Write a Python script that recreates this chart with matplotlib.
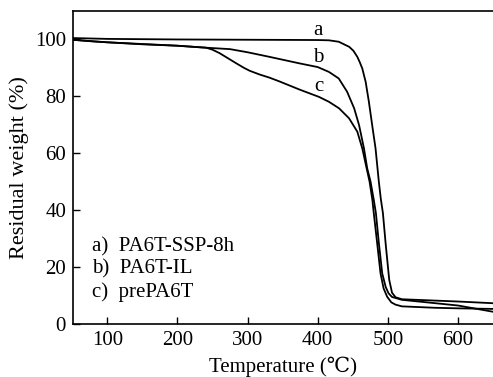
import matplotlib
matplotlib.use('Agg')
import matplotlib.pyplot as plt

# TGA curves
temp_a = [50, 100, 200, 300, 400, 416, 430, 445, 451, 456.5, 460, 463.6, 468.4, 473, 477.7,
          482.5, 487.2, 490, 493, 497, 502, 506, 511, 520, 560, 600, 650]
wt_a = [100.5, 100.2, 100.0, 99.9, 99.8, 99.7, 99.2, 97.4, 96.0, 93.9, 92.0, 89.8, 85.1, 78.1, 69.9,
        61.7, 50.0, 44.0, 39.0, 28.0, 15.5, 11.0, 9.4, 8.7, 8.3, 7.9, 7.3]

temp_b = [50, 80, 100, 150, 200, 241, 275, 300, 331, 374, 400, 416, 430, 442, 452, 459, 466,
          470.6, 475.4, 480, 483, 487, 492, 497, 501, 506, 520, 560, 600, 650]
wt_b = [99.9, 99.3, 99.0, 98.3, 97.8, 97.1, 96.6, 95.5, 93.9, 91.6, 90.3, 88.6, 86.3, 81.6, 75.8, 69.9, 61.7,
        54.7, 50.0, 43.6, 39.0, 29.0, 17.8, 13.0, 10.8, 9.5, 8.5, 7.5, 6.5, 4.3]

temp_c = [50, 100, 200, 241, 250, 260, 272, 284, 295, 303, 317, 331, 345, 360, 374, 388, 402, 416,
          430.5, 444.7, 456.5, 463.6, 469.8, 474, 478, 480, 485, 489.6, 494, 499, 505, 511, 520,
          567, 600, 650]
wt_c = [99.9, 99.0, 97.8, 97.1, 96.4, 95.2, 93.4, 91.6, 90.0, 89.0, 87.7, 86.6, 85.3, 83.8, 82.4, 81.1, 79.8, 78.1,
        75.8, 72.3, 67.6, 61.7, 54.7, 50.0, 43.6, 38.9, 28.0, 17.8, 12.5, 9.6, 7.6, 6.8, 6.2,
        5.7, 5.5, 5.3]

curve_tags = ['a', 'b', 'c']
tag_pos = [(401, 103.0), (401, 93.6), (401, 83.3)]
legend_lines = ['a)  PA6T-SSP-8h', 'b)  PA6T-IL', 'c)  prePA6T']

serif = ['Liberation Serif', 'DejaVu Serif']

fig = plt.figure(figsize=(4.93, 3.77), dpi=100)
ax = fig.add_axes([0.148, 0.1406, 0.852, 0.8302])

for t, w in [(temp_a, wt_a), (temp_b, wt_b), (temp_c, wt_c)]:
    ax.plot(t, w, color='black', linewidth=1.3, solid_joinstyle='round')

for tag, (x, y) in zip(curve_tags, tag_pos):
    ax.text(x, y, tag, fontsize=15, family=serif, ha='center', va='center')

for i, line in enumerate(legend_lines):
    ax.text(0.045, 0.247 - i * 0.072, line, transform=ax.transAxes,
            fontsize=15, family=serif, ha='left', va='center')

ax.set_xlim(51, 650)
ax.set_ylim(0, 110)
ax.set_xticks([100, 200, 300, 400, 500, 600])
ax.set_yticks([0, 20, 40, 60, 80, 100])
ax.tick_params(direction='in', length=5, width=1, labelsize=15, pad=5)
for lab in ax.get_xticklabels() + ax.get_yticklabels():
    lab.set_family(serif)

ax.spines['right'].set_visible(False)
for s in ['left', 'top', 'bottom']:
    ax.spines[s].set_linewidth(1.2)

ax.set_xlabel('Temperature (\u2103)', fontsize=15, family=serif, labelpad=5)
ax.set_ylabel('Residual weight (%)', fontsize=16, family=serif, labelpad=4)

fig.savefig('out.png', dpi=100)
